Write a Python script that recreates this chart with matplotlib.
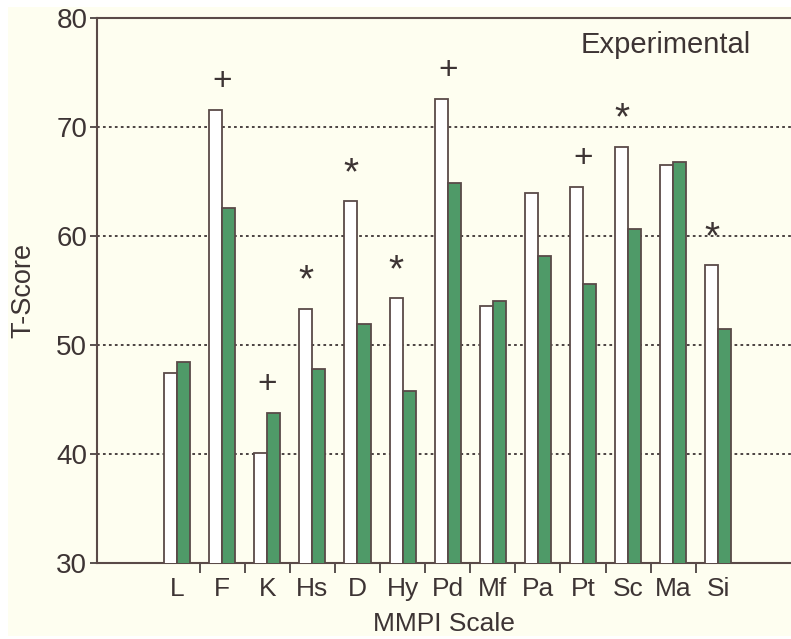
import matplotlib
matplotlib.use("Agg")
import matplotlib.pyplot as plt
from matplotlib.patches import Rectangle
import numpy as np

# MMPI scales and mean T-scores
scales = ["L", "F", "K", "Hs", "D", "Hy", "Pd", "Mf", "Pa", "Pt", "Sc", "Ma", "Si"]
before = [47.4, 71.6, 40.1, 53.3, 63.2, 54.3, 72.6, 53.6, 63.9, 64.5, 68.2, 66.5, 57.3]
after = [48.4, 62.6, 43.8, 47.8, 51.9, 45.8, 64.9, 54.0, 58.2, 55.6, 60.6, 66.8, 51.5]
# significance marks: '+' or '*' ('' = none)
marks = ["", "+", "+", "*", "*", "*", "+", "", "", "+", "*", "", "*"]

ink = "#3d3434"
green = "#4f9a68"
cream = "#fefef0"

plt.rcParams["font.family"] = ["Liberation Sans", "DejaVu Sans"]

fig = plt.figure(figsize=(7.91, 6.39), dpi=100, facecolor="white")
fig.patches.append(Rectangle((8 / 791, 3 / 639), 1, 629 / 639, transform=fig.transFigure,
                             facecolor=cream, edgecolor="none", zorder=-10))
ax = fig.add_axes([97 / 791, 76 / 639, 694 / 791, 545 / 639])
ax.set_facecolor(cream)

x = np.arange(len(scales))
w = 0.29
ax.bar(x - w / 2, before, w, color="white", edgecolor="#5a4a48", linewidth=1.3, zorder=3)
ax.bar(x + w / 2, after, w, color=green, edgecolor="#5a4a48", linewidth=1.3, zorder=3)

# '+' sits over the pair, '*' over the first bar
for i, m in enumerate(marks):
    if not m:
        continue
    top = max(before[i], after[i])
    if m == "+":
        ax.text(i, top + 2.6, "+", ha="center", va="center", fontsize=24,
                fontweight="light", color=ink, zorder=4)
    else:
        ax.text(i - w / 2, top + 2.5, "*", ha="center", va="center", fontsize=28,
                color=ink, zorder=4)

ax.set_ylim(30, 80)
ax.set_xlim(-1.774, 13.61)
ax.set_yticks([30, 40, 50, 60, 70, 80])
ax.tick_params(axis="y", labelsize=20, colors=ink, length=5, width=1.2, pad=2)
for v in [40, 50, 60, 70]:
    ax.axhline(v, color=ink, linestyle=(0, (1.5, 1.8)), linewidth=1.3, zorder=1)

ax.set_xticks(x[:-1] + 0.5)
ax.set_xticklabels([])
ax.set_xticks(x, minor=True)
ax.set_xticklabels(scales, minor=True, fontsize=19, color=ink)
ax.tick_params(axis="x", which="major", length=7, width=1.2, colors=ink)
ax.tick_params(axis="x", which="minor", length=0, pad=10)

for s in ["left", "bottom", "top"]:
    ax.spines[s].set_color("#5a4a48")
    ax.spines[s].set_linewidth(1.5)
ax.spines["right"].set_visible(False)

ax.set_xlabel("MMPI Scale", fontsize=19, color=ink, labelpad=8)
ax.set_ylabel("T-Score", fontsize=19.5, color=ink, labelpad=14)
ax.text(0.82, 0.95, "Experimental", transform=ax.transAxes, fontsize=21,
        color=ink, ha="center", va="center")

fig.savefig("out.png", dpi=100, facecolor=fig.get_facecolor())
